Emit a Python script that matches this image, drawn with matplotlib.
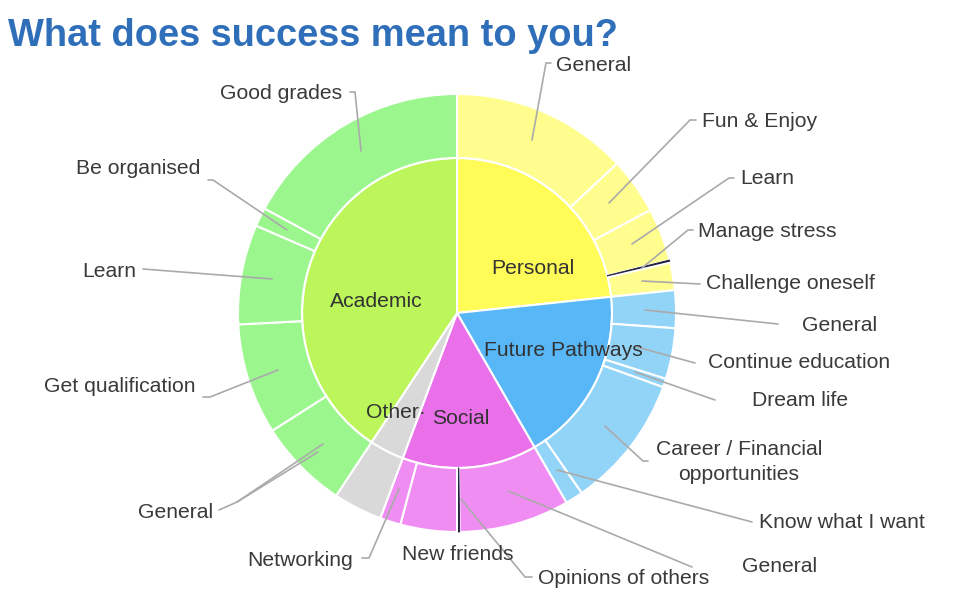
import matplotlib
matplotlib.use("Agg")
import matplotlib.pyplot as plt

# ---------------- data (in degrees of the ring) -------------
categories = ["Personal", "Future Pathways", "Social", "Other", "Academic"]

personal_labels = ["General", "Fun & Enjoy", "Learn", "Manage stress", "Challenge oneself"]
personal_values = [47, 15, 14, 0.7, 7.3]

future_labels = ["General", "Continue education", "Dream life",
                 "Career / Financial\nopportunities", "Know what I want"]
future_values = [10, 13.5, 2.3, 35.5, 4.7]

social_labels = ["General", "Opinions of others", "New friends", "Networking"]
social_values = [29.3, 0.7, 15, 5.5]

other_labels = [""]
other_values = [13]

academic_labels = ["General", "Get qualification", "Learn", "Be organised", "Good grades"]
academic_values = [24, 29.5, 26.5, 5, 61.5]

# ---------------- style ---------------------------------------------------------------
W, H = 962, 610
inner_colors = ["#fffb57", "#58b7f6", "#ea70ea", "#d9d9d9", "#bdf65b"]
outer_colors = ["#fffd8e", "#92d3f8", "#f08df2", "#d9d9d9", "#9bf68e"]
tiny_color = "#1b1b3a"
text_color = "#3a3a3a"
line_color = "#aaaaaa"
FS = 15.2

groups_vals = [personal_values, future_values, social_values, other_values, academic_values]
groups_labels = [personal_labels, future_labels, social_labels, other_labels, academic_labels]
inner_values = [sum(g) for g in groups_vals]
outer_values = [v for g in groups_vals for v in g]
outer_names = [l for g in groups_labels for l in g]
outer_cols = [outer_colors[i] for i, g in enumerate(groups_vals) for _ in g]

plt.rcParams["font.family"] = ["Liberation Sans", "DejaVu Sans"]

fig = plt.figure(figsize=(W / 100, H / 100), dpi=100)
ax = fig.add_axes([0, 0, 1, 1])


def P(x, y):
    return (x, H - y)


cx, cy = P(457, 313)
R_in, R_out = 155, 219

wedges_in, _ = ax.pie(inner_values, radius=R_in, center=(cx, cy), startangle=90,
                      counterclock=False, colors=inner_colors, frame=True,
                      wedgeprops=dict(width=R_in, edgecolor="white", linewidth=1.5))
wedges_out, _ = ax.pie(outer_values, radius=R_out, center=(cx, cy), startangle=90,
                       counterclock=False, colors=outer_cols, frame=True,
                       wedgeprops=dict(width=R_out - R_in, edgecolor="white", linewidth=1.5))
# very small slices are drawn dark
for w, v in zip(wedges_out, outer_values):
    if v < 1:
        w.set_facecolor(tiny_color)
        w.set_edgecolor(tiny_color)
        w.set_linewidth(0.6)

ax.set_xlim(0, W)
ax.set_ylim(0, H)
ax.set_aspect("equal")
ax.axis("off")

# ---------------- title ---------------------------------------------------------------
ax.text(*P(8, 46), "What does success mean to you?", fontsize=27.4, fontweight="bold",
        color="#2f6fba", ha="left", va="baseline")

# ---------------- inner labels ----------------------------------------------------------
inner_label_pos = [(533, 268), (563, 350), (461, 418), (396, 412), (376, 301)]
for name, (x, y) in zip(categories, inner_label_pos):
    t = name + "·" if name == "Other" else name
    ax.text(*P(x, y), t, fontsize=FS, color="#333333", ha="center", va="center")

# ---------------- outer labels with leader lines -----------------------------------------
outer_layout = [
    # personal
    ((556, 65, "left"), [[(532, 140), (546, 63), (551, 63)]]),
    ((702, 121, "left"), [[(609, 203), (690, 120), (696, 120)]]),
    ((740, 178, "left"), [[(632, 244), (729, 178), (734, 178)]]),
    ((698, 231, "left"), [[(642, 268), (688, 230), (693, 230)]]),
    ((706, 283, "left"), [[(642, 281), (700, 284)]]),
    # future pathways
    ((802, 325, "left"), [[(645, 310), (778, 324)]]),
    ((708, 363, "left"), [[(637, 347), (695, 363)]]),
    ((752, 400, "left"), [[(635, 372), (715, 400)]]),
    ((739, 462, "center"), [[(605, 426), (643, 461), (648, 461)]]),
    ((759, 522, "left"), [[(557, 470), (752, 522)]]),
    # social
    ((742, 567, "left"), [[(508, 491), (692, 567)]]),
    ((538, 578, "left"), [[(461, 499), (525, 577), (532, 577)]]),
    ((402, 555, "left"), []),
    ((353, 560, "right"), [[(399, 489), (369, 558), (362, 558)]]),
    # other
    (None, []),
    # academic
    ((213, 512, "right"), [[(323, 444), (237, 502), (219, 510)], [(318, 452), (237, 502)]]),
    ((196, 387, "right"), [[(278, 370), (210, 397), (203, 397)]]),
    ((136, 271, "right"), [[(272, 279), (143, 269)]]),
    ((200, 168, "right"), [[(287, 230), (213, 180), (208, 180)]]),
    ((342, 93, "right"), [[(361, 151), (355, 92), (350, 92)]]),
]

for name, (tpos, lines) in zip(outer_names, outer_layout):
    for pts in lines:
        xs = [p[0] for p in pts]
        ys = [H - p[1] for p in pts]
        ax.plot(xs, ys, color=line_color, linewidth=1.2, solid_capstyle="round")
    if tpos is not None and name:
        x, y, ha = tpos
        ax.text(*P(x, y), name, fontsize=FS, color=text_color, ha=ha, va="center",
                multialignment="center", linespacing=1.4)

fig.savefig("out.png", dpi=100)
